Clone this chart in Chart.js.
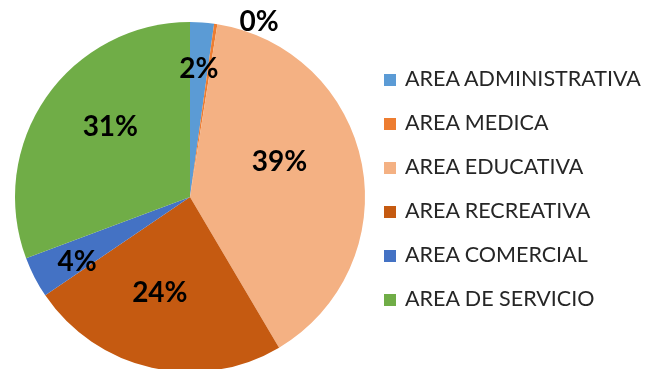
<!DOCTYPE html>
<html>
<head>
<meta charset="utf-8">
<script src="https://cdn.jsdelivr.net/npm/chart.js@4"></script>
<style>
    html, body { margin: 0; padding: 0; background: #fff; overflow: hidden; }
    #wrap { position: relative; width: 645px; height: 369px; overflow: hidden; }
    #box { position: absolute; left: 0; top: 0; width: 645px; height: 380px; }
    #legend { position: absolute; left: 384px; top: 56px; margin: 0; padding: 0; list-style: none;
              font-family: Lato, 'Open Sans', sans-serif; font-size: 21.5px; color: #262626; }
    #legend li { height: 44px; line-height: 44px; white-space: nowrap; }
    #legend span { display: inline-block; width: 12px; height: 12px; margin-right: 9px; vertical-align: 0px; }
</style>
</head>
<body>
<div id="wrap">
    <div id="box"><canvas id="pie"></canvas></div>
    <ul id="legend"></ul>
</div>
<script>
var AREAS  = ['AREA ADMINISTRATIVA', 'AREA MEDICA', 'AREA EDUCATIVA', 'AREA RECREATIVA', 'AREA COMERCIAL', 'AREA DE SERVICIO'];
var SHARES = [2.2, 0.3, 39.0, 24.0, 3.8, 30.7];
var COLORS = ['#5B9BD5', '#ED7D31', '#F4B183', '#C55A11', '#4472C4', '#70AD47'];

// where each percentage sits: fraction of radius, and a nudge off the slice's mid-angle (deg)
var LABEL_RADIUS = [0.74, 1.08, 0.55, 0.57, 0.74, 0.61];
var LABEL_TURN   = [0, 13, -11, 5, -2, 7];

var pctLabels = {
    id: 'pctLabels',
    afterDatasetsDraw: function(chart) {
        var ctx = chart.ctx;
        var total = SHARES.reduce(function(a, b) { return a + b; }, 0);
        ctx.save();
        ctx.font = 'bold 28px Lato, sans-serif';
        ctx.fillStyle = '#000';
        ctx.textAlign = 'center';
        ctx.textBaseline = 'middle';
        chart.getDatasetMeta(0).data.forEach(function(arc, i) {
            var p = arc.getProps(['x', 'y', 'startAngle', 'endAngle', 'outerRadius'], true);
            var mid = (p.startAngle + p.endAngle) / 2 + LABEL_TURN[i] * Math.PI / 180;
            var r = p.outerRadius * LABEL_RADIUS[i];
            var txt = Math.round(SHARES[i] / total * 100) + '%';
            ctx.fillText(txt, p.x + Math.cos(mid) * r, p.y + Math.sin(mid) * r + 1);
        });
        ctx.restore();
    }
};

var chart = new Chart(document.getElementById('pie'), {
    type: 'pie',
    data: {
        labels: AREAS,
        datasets: [{
            data: SHARES,
            backgroundColor: COLORS,
            borderColor: '#fff',
            borderWidth: 0
        }]
    },
    options: {
        responsive: true,
        maintainAspectRatio: false,
        animation: false,
        layout: { padding: { left: 15, right: 280, top: 22, bottom: 8 } },
        plugins: { legend: { display: false }, tooltip: { enabled: false } }
    },
    plugins: [pctLabels]
});

document.getElementById('legend').innerHTML = AREAS.map(function(a, i) {
    return '<li><span style="background:' + COLORS[i] + '"></span>' + a + '</li>';
}).join('');
</script>
</body>
</html>
